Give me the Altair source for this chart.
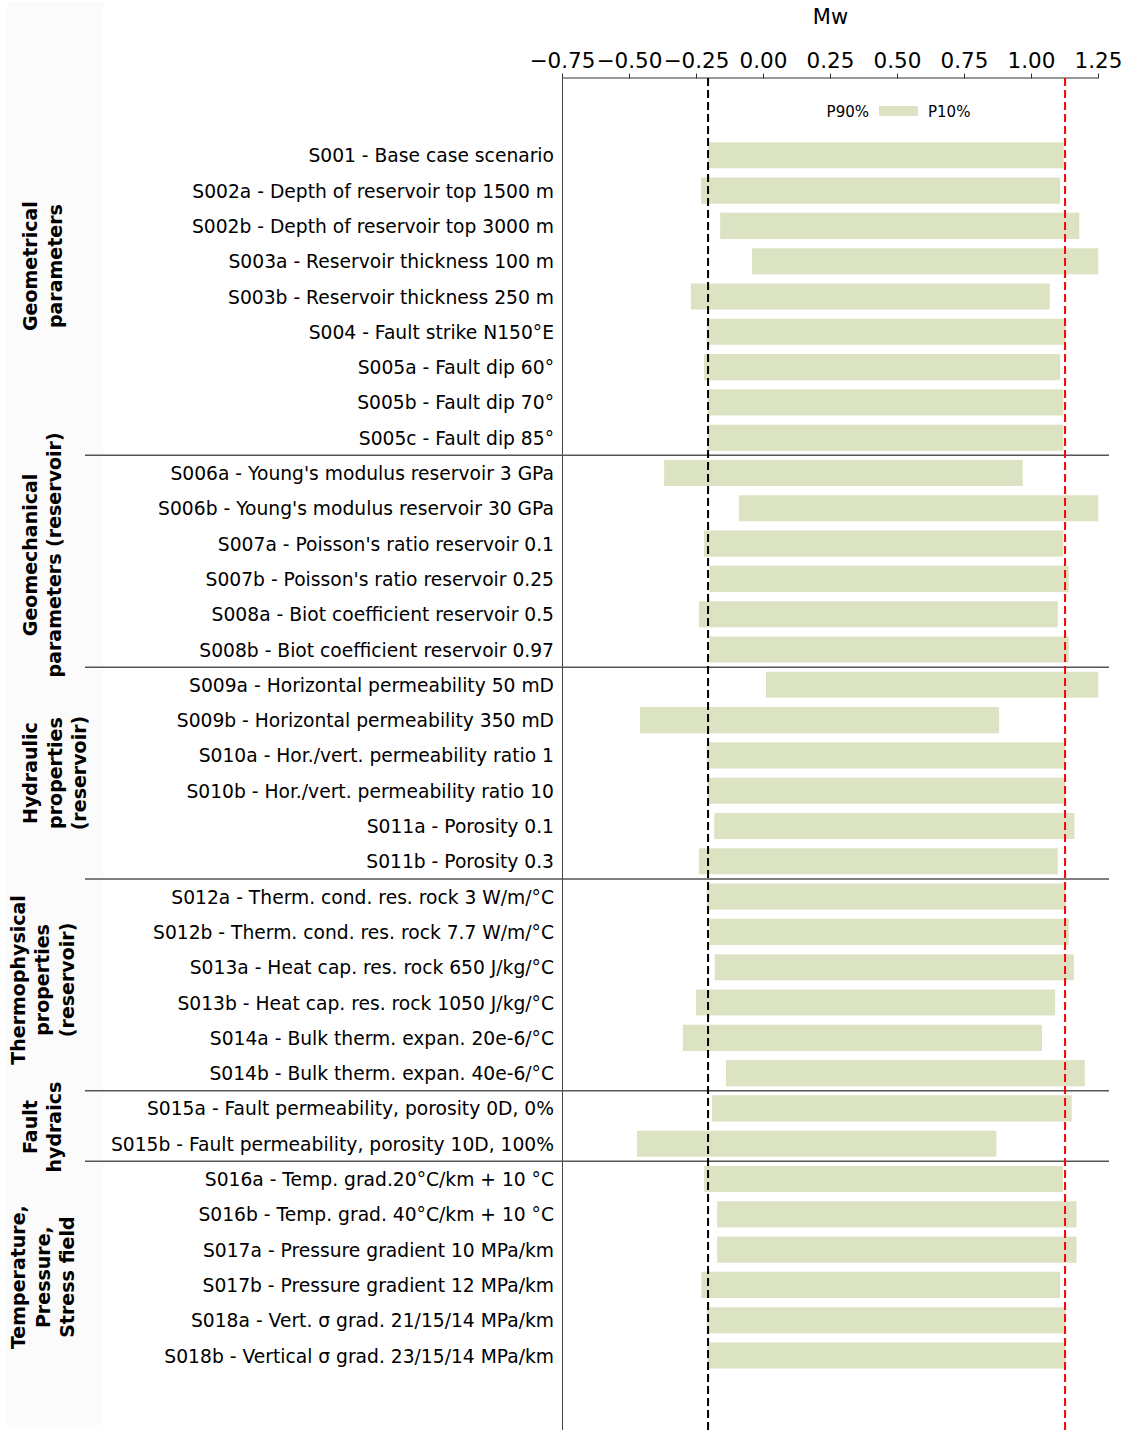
import altair as alt
import pandas as pd

# ---------------- data ----------------
scenarios = [
    "S001 - Base case scenario",
    "S002a - Depth of reservoir top 1500 m",
    "S002b - Depth of reservoir top 3000 m",
    "S003a - Reservoir thickness 100 m",
    "S003b - Reservoir thickness 250 m",
    "S004 - Fault strike N150°E",
    "S005a - Fault dip 60°",
    "S005b - Fault dip 70°",
    "S005c - Fault dip 85°",
    "S006a - Young's modulus reservoir 3 GPa",
    "S006b - Young's modulus reservoir 30 GPa",
    "S007a - Poisson's ratio reservoir 0.1",
    "S007b - Poisson's ratio reservoir 0.25",
    "S008a - Biot coefficient reservoir 0.5",
    "S008b - Biot coefficient reservoir 0.97",
    "S009a - Horizontal permeability 50 mD",
    "S009b - Horizontal permeability 350 mD",
    "S010a - Hor./vert. permeability ratio 1",
    "S010b - Hor./vert. permeability ratio 10",
    "S011a - Porosity 0.1",
    "S011b - Porosity 0.3",
    "S012a - Therm. cond. res. rock 3 W/m/°C",
    "S012b - Therm. cond. res. rock 7.7 W/m/°C",
    "S013a - Heat cap. res. rock 650 J/kg/°C",
    "S013b - Heat cap. res. rock 1050 J/kg/°C",
    "S014a - Bulk therm. expan. 20e-6/°C",
    "S014b - Bulk therm. expan. 40e-6/°C",
    "S015a - Fault permeability, porosity 0D, 0%",
    "S015b - Fault permeability, porosity 10D, 100%",
    "S016a - Temp. grad.20°C/km + 10 °C",
    "S016b - Temp. grad. 40°C/km + 10 °C",
    "S017a - Pressure gradient 10 MPa/km",
    "S017b - Pressure gradient 12 MPa/km",
    "S018a - Vert. σ grad. 21/15/14 MPa/km",
    "S018b - Vertical σ grad. 23/15/14 MPa/km",
]

p90 = [-0.205, -0.231, -0.160, -0.041, -0.269, -0.210, -0.220, -0.207, -0.207,
       -0.369, -0.090, -0.220, -0.200, -0.239, -0.200,
       0.011, -0.459, -0.210, -0.207, -0.182, -0.239,
       -0.210, -0.200, -0.180, -0.250, -0.299, -0.138,
       -0.190, -0.470,
       -0.220, -0.171, -0.171, -0.230, -0.210, -0.208]

p10 = [1.122, 1.109, 1.180, 1.251, 1.070, 1.129, 1.109, 1.121, 1.121,
       0.969, 1.251, 1.121, 1.141, 1.100, 1.141,
       1.251, 0.881, 1.127, 1.127, 1.162, 1.100,
       1.129, 1.141, 1.160, 1.090, 1.041, 1.201,
       1.152, 0.871,
       1.119, 1.170, 1.170, 1.109, 1.129, 1.129]

group_names = [
    "Geometrical\nparameters",
    "Geomechanical\nparameters (reservoir)",
    "Hydraulic\nproperties\n(reservoir)",
    "Thermophysical\nproperties\n(reservoir)",
    "Fault\nhydraics",
    "Temperature,\nPressure,\nStress field",
]
group_sizes = [9, 6, 6, 6, 2, 6]

x_ticks = [-0.75, -0.5, -0.25, 0.0, 0.25, 0.5, 0.75, 1.0, 1.25]
base_p90 = -0.205
base_p10 = 1.127

# ---------------- layout ----------------
W, H = 547, 1352
PAD = {"left": 562, "top": 78, "right": 17, "bottom": 0}
BAR_HALF = 0.37
group_label_row = [3.14, 11.32, 17.5, 23.36, 27.53, 31.78]
# x (image px) of the first text line of each group label
group_label_px = [31 - 562, 30.5 - 562, 31 - 562, 18.5 - 562, 30.5 - 562, 19 - 562]
FONT = "DejaVu Sans"
BAR_COLOR = "#dce3c3"

xscale = alt.Scale(domain=[-0.75, 1.291], nice=False, zero=False)
yscale = alt.Scale(domain=[-2.19, 36.11], nice=False, zero=False, reverse=True)

xaxis = alt.Axis(orient="top", values=x_ticks, format=".2f", title="Mw",
                 domain=False, grid=False, tickSize=5, tickColor="#333",
                 labelFontSize=21.5, labelFont=FONT, labelColor="#000",
                 titleFont=FONT, titleFontSize=21, titleFontWeight="normal",
                 titleColor="#000", titleX=268, titleY=-61,
                 titleBaseline="middle", titleAlign="center", titleAnchor="start",
                 labelPadding=1, labelFlush=False, labelOverlap=False)
yaxis = alt.Axis(labels=False, ticks=False, grid=False, title=None,
                 domain=True, domainColor="#444", domainWidth=1)

rows = list(range(len(scenarios)))
bars_df = pd.DataFrame({
    "row": rows,
    "label": scenarios,
    "p90": p90,
    "p10": p10,
})
bars_df["y0"] = bars_df["row"] - BAR_HALF
bars_df["y1"] = bars_df["row"] + BAR_HALF

cum = []
s = 0
for g in group_sizes:
    s += g
    cum.append(s)
sep_df = pd.DataFrame({"ypos": [c - 0.5 for c in cum[:-1]]})

grp_df = pd.DataFrame({
    "name": group_names,
    "row": group_label_row,
    "px": group_label_px,
})

one = pd.DataFrame({"k": [0]})

panel = alt.Chart(one).mark_rect(color="#fbfbfb").encode(
    x=alt.value(-555), x2=alt.value(-459), y=alt.value(-76), y2=alt.value(1347)
)

bars = alt.Chart(bars_df).mark_rect(color=BAR_COLOR).encode(
    x=alt.X("p90:Q", scale=xscale, axis=xaxis),
    x2="p10:Q",
    y=alt.Y("y0:Q", scale=yscale, axis=yaxis),
    y2="y1:Q",
)

row_labels = alt.Chart(bars_df).mark_text(
    align="right", baseline="middle", font=FONT, fontSize=18.7, color="#000", dy=1
).encode(
    x=alt.value(-8),
    y=alt.Y("row:Q", scale=yscale, axis=yaxis),
    text="label:N",
)

top_spine = alt.Chart(pd.DataFrame({"a": [min(x_ticks)], "b": [max(x_ticks)]})).mark_rule(
    color="#333", strokeWidth=1
).encode(
    x=alt.X("a:Q", scale=xscale, axis=xaxis), x2="b:Q", y=alt.value(0)
)

ref_black = alt.Chart(pd.DataFrame({"v": [base_p90]})).mark_rule(
    color="#000", strokeWidth=2, strokeDash=[8, 4]
).encode(x=alt.X("v:Q", scale=xscale, axis=xaxis))

ref_red = alt.Chart(pd.DataFrame({"v": [base_p10]})).mark_rule(
    color="#ff0000", strokeWidth=2, strokeDash=[8, 4]
).encode(x=alt.X("v:Q", scale=xscale, axis=xaxis))

separators = alt.Chart(sep_df).mark_rule(color="#555", strokeWidth=1.5).encode(
    x=alt.value(-477), x2=alt.value(W),
    y=alt.Y("ypos:Q", scale=yscale, axis=yaxis),
)

group_labels = alt.Chart(grp_df).mark_text(
    angle=270, align="center", baseline="middle", font=FONT, fontSize=19,
    fontWeight="bold", color="#000", lineBreak="\n", lineHeight=24.5
).encode(
    x=alt.X("px:Q", scale=None, axis=None),
    y=alt.Y("row:Q", scale=yscale, axis=yaxis),
    text="name:N",
)

leg_p90 = alt.Chart(one).mark_text(
    text="P90%", align="right", baseline="middle", font=FONT, fontSize=15, color="#000"
).encode(x=alt.value(307), y=alt.value(34))

leg_swatch = alt.Chart(one).mark_rect(color=BAR_COLOR).encode(
    x=alt.value(317), x2=alt.value(356), y=alt.value(28), y2=alt.value(38)
)

leg_p10 = alt.Chart(one).mark_text(
    text="P10%", align="left", baseline="middle", font=FONT, fontSize=15, color="#000"
).encode(x=alt.value(366), y=alt.value(34))

chart = alt.layer(
    panel, bars, row_labels, top_spine, separators, ref_black, ref_red,
    group_labels, leg_p90, leg_swatch, leg_p10
).properties(
    width=W, height=H,
    padding=PAD,
    autosize=alt.AutoSizeParams(type="none"),
    background="white",
).configure_view(stroke=None)

chart.save("out.html", embed_options={"renderer": "svg", "actions": False})
